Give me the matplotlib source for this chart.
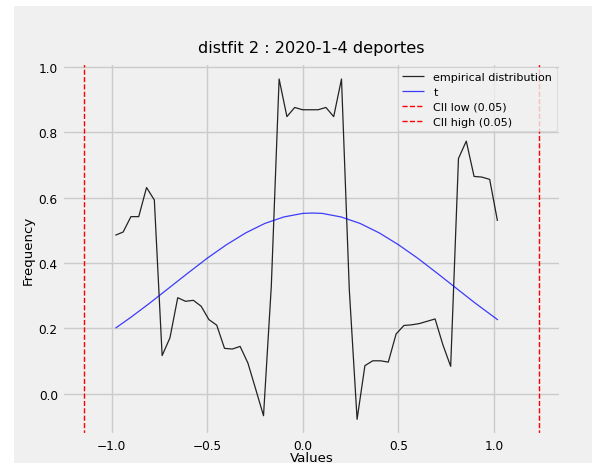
import matplotlib
matplotlib.use("Agg")
import matplotlib.pyplot as plt
from matplotlib.patches import Rectangle

plt.style.use("fivethirtyeight")

# empirical distribution (bin centres, frequency)
emp_x = [-0.981 + i * 0.04079 for i in range(50)]
emp_y = [0.485, 0.495, 0.542, 0.542, 0.631, 0.593, 0.117, 0.171, 0.294, 0.283,
         0.286, 0.268, 0.227, 0.210, 0.139, 0.137, 0.145, 0.094, 0.014, -0.067,
         0.330, 0.963, 0.848, 0.876, 0.869, 0.869, 0.869, 0.876, 0.848, 0.963,
         0.319, -0.078, 0.086, 0.101, 0.101, 0.097, 0.183, 0.209, 0.211, 0.215,
         0.222, 0.229, 0.150, 0.084, 0.720, 0.773, 0.665, 0.663, 0.656, 0.529]

# fitted t curve
t_x = [-0.98, -0.9, -0.8, -0.7, -0.6, -0.5, -0.4, -0.3, -0.2, -0.1, 0.0, 0.05,
       0.1, 0.2, 0.3, 0.4, 0.5, 0.6, 0.7, 0.8, 0.9, 1.02]
t_y = [0.201, 0.234, 0.278, 0.324, 0.370, 0.415, 0.456, 0.492, 0.521, 0.541,
       0.552, 0.553, 0.552, 0.541, 0.521, 0.492, 0.456, 0.415, 0.370, 0.324,
       0.278, 0.226]

cii_low = -1.145
cii_high = 1.234

fig = plt.figure(figsize=(5.92, 4.64), dpi=100, facecolor="white")
fig.patches.append(Rectangle((13.5 / 592, 0), 1, 457 / 464, transform=fig.transFigure,
                             facecolor="#f0f0f0", edgecolor="none", zorder=-10))
ax = fig.add_axes([62 / 592, 1 - 436 / 464, (561 - 62) / 592, (436 - 64) / 464])
ax.set_facecolor("#f0f0f0")

ax.plot(emp_x, emp_y, color="black", lw=0.9, alpha=0.85, label="empirical distribution")
ax.plot(t_x, t_y, color="blue", lw=0.9, alpha=0.75, label="t")
ax.axvline(cii_low, color="red", ls="--", lw=1, label="CII low (0.05)")
ax.axvline(cii_high, color="red", ls="--", lw=1, label="CII high (0.05)")

ax.set_xlim(-1.26, 1.35)
ax.set_ylim(-0.126, 1.012)
ax.set_xticks([-1.0, -0.5, 0.0, 0.5, 1.0])
ax.set_yticks([0.0, 0.2, 0.4, 0.6, 0.8, 1.0])
ax.tick_params(labelsize=8.7, length=0, pad=3)
ax.grid(True, color="#cbcbcb", lw=1)

ax.set_title("distfit 2 : 2020-1-4 deportes", fontsize=11.6, pad=8)
ax.set_xlabel("Values", fontsize=9.6, labelpad=-1)
ax.set_ylabel("Frequency", fontsize=9.6, labelpad=3)
ax.legend(loc="upper right", fontsize=8, frameon=True, framealpha=0.8,
          borderaxespad=0.4, handlelength=2.0, labelspacing=0.45)

fig.savefig("out.png", dpi=100, facecolor=fig.get_facecolor())
